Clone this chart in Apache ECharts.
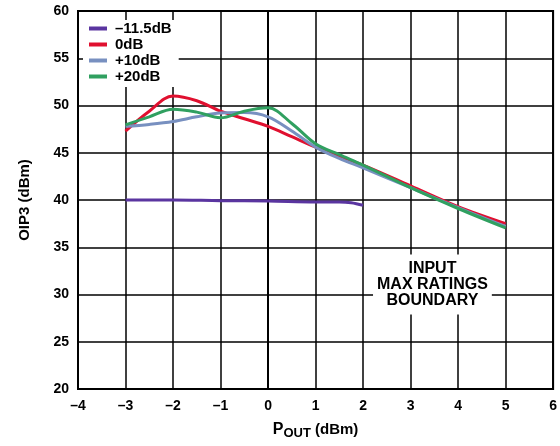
<!DOCTYPE html>
<html><head><meta charset="utf-8">
<script src="https://cdn.jsdelivr.net/npm/echarts@6/dist/echarts.min.js"></script>
<style>html,body{margin:0;padding:0;background:#fff}#c{width:560px;height:446px}</style>
</head><body><div id="c"></div>
<script>
const xTicks = [-4,-3,-2,-1,0,1,2,3,4,5,6];
const seriesNames = ['\u201311.5dB','0dB','+10dB','+20dB'];
const xPurple = [-3,-2,-1,0,1,1.5,1.75,2];
const yPurple = [40.0,40.0,39.93,39.9,39.8,39.8,39.72,39.45];
const xRed = [-3,-2.5,-2,-1.5,-1,-0.5,0,0.5,1,1.5,2,3,4,5];
const yRed = [47.3,49.4,51.0,50.5,49.4,48.6,47.8,46.7,45.6,44.6,43.7,41.5,39.3,37.5];
const xBlue = [-3,-2.5,-2,-1.5,-1,-0.5,0,0.5,1,1.5,2,3,4,5];
const yBlue = [47.8,48.0,48.3,48.8,49.2,49.25,48.8,47.3,45.6,44.4,43.4,41.3,39.2,37.2];
const xGreen = [-3,-2.5,-2,-1.5,-1,-0.5,0,0.5,1,1.5,2,3,4,5];
const yGreen = [47.95,48.8,49.6,49.3,48.7,49.4,49.75,48.1,45.95,44.8,43.7,41.3,39.1,37.05];
const boundaryText = ['INPUT','MAX RATINGS','BOUNDARY'];
const boundaryPos = [3.46, 31.05];

const colors = ['#5a35a0','#e0102f','#7890c0','#30a060'];
const pair = (xs, ys) => xs.map((x,i)=>[x, ys[i]]);
const font = 'Liberation Sans, Arial, Helvetica, sans-serif';
const mkSeries = (name, xs, ys, color, extra) => Object.assign({
  name, type:'line', data: pair(xs, ys), smooth: 0.35, symbol:'none',
  lineStyle:{color, width:3}, itemStyle:{color}, z: 3
}, extra || {});

const chart = echarts.init(document.getElementById('c'));
chart.setOption({
  animation:false,
  backgroundColor:'#fff',
  textStyle:{fontFamily:font},
  grid:{left:78, right:6, top:11, bottom:57, show:true, borderColor:'#000', borderWidth:2},
  legend:{
    orient:'vertical', left:83, top:20, itemGap:1, itemWidth:18, itemHeight:4, icon:'rect',
    backgroundColor:'#fff', padding:[1,7,3,6],
    textStyle:{fontFamily:font, fontWeight:'bold', fontSize:15, color:'#000', padding:[0,0,0,3]},
    data: seriesNames
  },
  xAxis:{
    type:'value', min:-4, max:6, interval:1,
    axisLine:{show:true, lineStyle:{color:'#000', width:2}},
    axisTick:{show:false},
    splitLine:{show:true, lineStyle:{color:'#000', width:1.5}},
    axisLabel:{margin:10, fontFamily:font, fontWeight:'bold', fontSize:14, color:'#000',
      formatter: v => xTicks.includes(v) ? String(v).replace('-','\u2013') : ''},
    name:'{a|P}{s|OUT}{b| (dBm)}', nameLocation:'middle', nameGap:31,
    nameTextStyle:{rich:{
      a:{fontFamily:font, fontWeight:'bold', fontSize:16, color:'#000'},
      s:{fontFamily:font, fontWeight:'bold', fontSize:13, color:'#000', verticalAlign:'bottom', padding:[7,0,0,0]},
      b:{fontFamily:font, fontWeight:'bold', fontSize:15, color:'#000'}
    }}
  },
  yAxis:{
    type:'value', min:20, max:60, interval:5,
    axisLine:{show:true, lineStyle:{color:'#000', width:2}},
    axisTick:{show:false},
    splitLine:{show:true, lineStyle:{color:'#000', width:1.5}},
    axisLabel:{margin:9, fontFamily:font, fontWeight:'bold', fontSize:14, color:'#000'},
    name:'OIP3 (dBm)', nameLocation:'middle', nameGap:46,
    nameTextStyle:{fontFamily:font, fontWeight:'bold', fontSize:15, color:'#000'}
  },
  series:[
    mkSeries(seriesNames[0], xPurple, yPurple, colors[0]),
    mkSeries(seriesNames[1], xRed, yRed, colors[1], {
      markPoint:{
        symbol:'rect', symbolSize:0, silent:true,
        data:[{coord:boundaryPos, value:0}],
        label:{show:true, position:'inside', formatter: boundaryText.join('\n'),
          fontFamily:font, fontWeight:'bold', fontSize:16, color:'#000', lineHeight:16,
          backgroundColor:'#fff', padding:[6,4], align:'center', verticalAlign:'middle'}
      }
    }),
    mkSeries(seriesNames[2], xBlue, yBlue, colors[2]),
    mkSeries(seriesNames[3], xGreen, yGreen, colors[3])
  ]
});
</script></body></html>
